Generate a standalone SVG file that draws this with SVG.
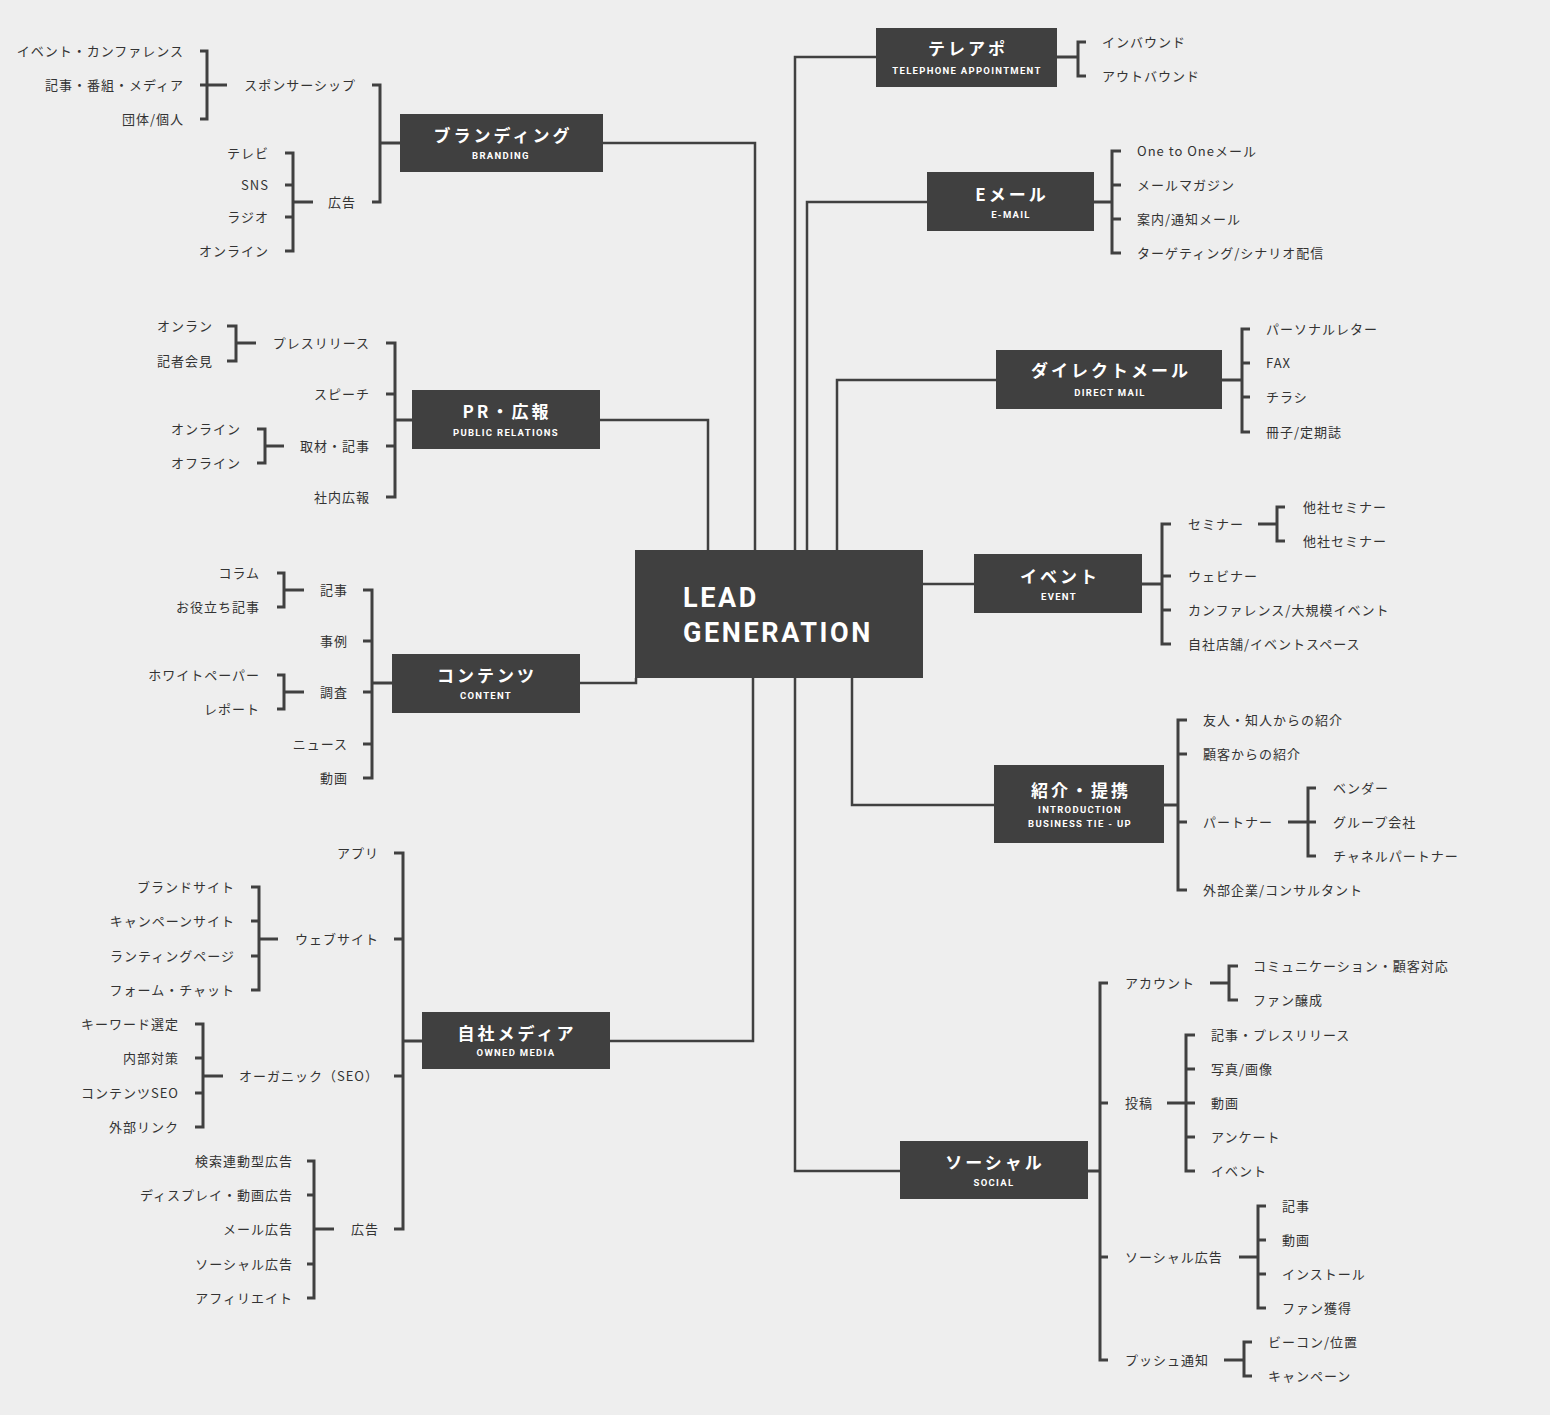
<svg xmlns="http://www.w3.org/2000/svg" width="1550" height="1415" viewBox="0 0 1550 1415">
<style>
.bg{fill:#eeeeee}
.box{fill:#404040}
.ln{fill:none;stroke:#404040;stroke-width:2.5}
.br{fill:none;stroke:#404040;stroke-width:3;stroke-linejoin:miter}
.t{font-family:"Noto Sans CJK JP","Noto Sans",sans-serif;font-size:13px;fill:#333;letter-spacing:1px}
.e{text-anchor:end}
.h{font-family:"Noto Sans CJK JP","Noto Sans",sans-serif;font-size:17px;font-weight:bold;fill:#fff;letter-spacing:3px;text-anchor:middle}
.s{font-family:Roboto,"DejaVu Sans",sans-serif;font-size:9.5px;font-weight:bold;fill:#fff;letter-spacing:1.3px;text-anchor:middle}
.c{font-family:Roboto,"DejaVu Sans",sans-serif;font-size:27px;font-weight:bold;fill:#fff;letter-spacing:2.6px}
</style>
<rect class="bg" x="0" y="0" width="1550" height="1415"/>

<g id="connectors">
<!-- main -->
<path class="ln" d="M603 143H755V550"/>
<path class="ln" d="M600 420H708V550"/>
<path class="ln" d="M580 683H636V678"/>
<path class="ln" d="M610 1041H753V678"/>
<path class="ln" d="M876 57H795V550"/>
<path class="ln" d="M927 202H807V550"/>
<path class="ln" d="M996 380H837V550"/>
<path class="ln" d="M923 584H974"/>
<path class="ln" d="M852 678V805H994"/>
<path class="ln" d="M795 678V1171H900"/>
<!-- branding -->
<path class="br" d="M200 51H207V119H200M200 85H227"/>
<path class="br" d="M285 153H293V251H285M285 185H293M285 217H293M293 202H313"/>
<path class="br" d="M372 85H380V202H372M380 143H400"/>
<!-- PR -->
<path class="br" d="M227 326H236V361H227M236 343H256"/>
<path class="br" d="M257 429H265V463H257M265 446H284"/>
<path class="br" d="M386 343H395V497H386M386 394H395M386 446H395M395 420H412"/>
<!-- content -->
<path class="br" d="M277 573H284V607H277M284 590H304"/>
<path class="br" d="M277 675H284V709H277M284 692H304"/>
<path class="br" d="M363 590H372V778H363M363 641H372M363 692H372M363 744H372M372 683H392"/>
<!-- owned media -->
<path class="br" d="M394 853H403V1229H394M394 939H403M394 1076H403M403 1041H422"/>
<path class="br" d="M251 887H259V990H251M251 921H259M251 956H259M259 939H278"/>
<path class="br" d="M195 1024H203V1127H195M195 1058H203M195 1093H203M203 1076H223"/>
<path class="br" d="M307 1161H314V1298H307M307 1195H314M307 1264H314M314 1229H334"/>
<!-- telephone -->
<path class="br" d="M1057 57H1078M1086 42H1078V76H1086"/>
<!-- email -->
<path class="br" d="M1094 202H1112M1121 151H1112V253H1121M1112 185H1121M1112 219H1121"/>
<!-- DM -->
<path class="br" d="M1222 380H1242M1250 329H1242V432H1250M1242 363H1250M1242 397H1250"/>
<!-- event -->
<path class="br" d="M1142 584H1162M1171 524H1162V644H1171M1162 576H1171M1162 610H1171"/>
<path class="br" d="M1258 524H1277M1285 507H1277V541H1285"/>
<!-- intro -->
<path class="br" d="M1164 805H1178M1187 720H1178V890H1187M1178 754H1187M1178 822H1187"/>
<path class="br" d="M1288 822H1316M1316 788H1308V856H1316"/>
<!-- social -->
<path class="br" d="M1088 1171H1100M1108 983H1100V1360H1108M1100 1103H1108M1100 1257H1108"/>
<path class="br" d="M1210 983H1229M1238 966H1229V1000H1238"/>
<path class="br" d="M1167 1103H1195M1195 1035H1186V1171H1195M1186 1069H1195M1186 1137H1195"/>
<path class="br" d="M1239 1257H1258M1266 1206H1258V1308H1266M1258 1240H1266M1258 1274H1266"/>
<path class="br" d="M1224 1360H1244M1252 1342H1244V1376H1252"/>
</g>

<g id="lead-generation">
<rect class="box" x="635" y="550" width="288" height="128"/>
<text class="c" x="683" y="607">LEAD</text>
<text class="c" x="683" y="642">GENERATION</text>
</g>

<g id="branding">
<rect class="box" x="400" y="114" width="203" height="58"/>
<text class="h" x="503" y="142">ブランディング</text>
<text class="s" x="501" y="159">BRANDING</text>
<text class="t e" x="184" y="56">イベント・カンファレンス</text>
<text class="t e" x="184" y="90">記事・番組・メディア</text>
<text class="t e" x="184" y="124">団体/個人</text>
<text class="t e" x="356" y="90">スポンサーシップ</text>
<text class="t e" x="356" y="207">広告</text>
<text class="t e" x="269" y="158">テレビ</text>
<text class="t e" x="269" y="190">SNS</text>
<text class="t e" x="269" y="222">ラジオ</text>
<text class="t e" x="269" y="256">オンライン</text>
</g>

<g id="public-relations">
<rect class="box" x="412" y="390" width="188" height="59"/>
<text class="h" x="507" y="418">PR・広報</text>
<text class="s" x="506" y="436">PUBLIC RELATIONS</text>
<text class="t e" x="213" y="331">オンラン</text>
<text class="t e" x="213" y="366">記者会見</text>
<text class="t e" x="241" y="434">オンライン</text>
<text class="t e" x="241" y="468">オフライン</text>
<text class="t e" x="370" y="348">プレスリリース</text>
<text class="t e" x="370" y="399">スピーチ</text>
<text class="t e" x="370" y="451">取材・記事</text>
<text class="t e" x="370" y="502">社内広報</text>
</g>

<g id="content">
<rect class="box" x="392" y="654" width="188" height="59"/>
<text class="h" x="487" y="682">コンテンツ</text>
<text class="s" x="486" y="699">CONTENT</text>
<text class="t e" x="260" y="578">コラム</text>
<text class="t e" x="260" y="612">お役立ち記事</text>
<text class="t e" x="260" y="680">ホワイトペーパー</text>
<text class="t e" x="260" y="714">レポート</text>
<text class="t e" x="348" y="595">記事</text>
<text class="t e" x="348" y="646">事例</text>
<text class="t e" x="348" y="697">調査</text>
<text class="t e" x="348" y="749">ニュース</text>
<text class="t e" x="348" y="783">動画</text>
</g>

<g id="owned-media">
<rect class="box" x="422" y="1012" width="188" height="57"/>
<text class="h" x="517" y="1040">自社メディア</text>
<text class="s" x="516" y="1056">OWNED MEDIA</text>
<text class="t e" x="379" y="858">アプリ</text>
<text class="t e" x="379" y="944">ウェブサイト</text>
<text class="t e" x="379" y="1081">オーガニック（SEO）</text>
<text class="t e" x="379" y="1234">広告</text>
<text class="t e" x="235" y="892">ブランドサイト</text>
<text class="t e" x="235" y="926">キャンペーンサイト</text>
<text class="t e" x="235" y="961">ランティングページ</text>
<text class="t e" x="235" y="995">フォーム・チャット</text>
<text class="t e" x="179" y="1029">キーワード選定</text>
<text class="t e" x="179" y="1063">内部対策</text>
<text class="t e" x="179" y="1098">コンテンツSEO</text>
<text class="t e" x="179" y="1132">外部リンク</text>
<text class="t e" x="293" y="1166">検索連動型広告</text>
<text class="t e" x="293" y="1200">ディスプレイ・動画広告</text>
<text class="t e" x="293" y="1234">メール広告</text>
<text class="t e" x="293" y="1269">ソーシャル広告</text>
<text class="t e" x="293" y="1303">アフィリエイト</text>
</g>

<g id="telephone">
<rect class="box" x="876" y="28" width="181" height="59"/>
<text class="h" x="968" y="55">テレアポ</text>
<text class="s" x="967" y="74">TELEPHONE APPOINTMENT</text>
<text class="t" x="1102" y="47">インバウンド</text>
<text class="t" x="1102" y="81">アウトバウンド</text>
</g>

<g id="email">
<rect class="box" x="927" y="172" width="167" height="59"/>
<text class="h" x="1012" y="201">Eメール</text>
<text class="s" x="1011" y="218">E-MAIL</text>
<text class="t" x="1137" y="156">One to Oneメール</text>
<text class="t" x="1137" y="190">メールマガジン</text>
<text class="t" x="1137" y="224">案内/通知メール</text>
<text class="t" x="1137" y="258">ターゲティング/シナリオ配信</text>
</g>

<g id="direct-mail">
<rect class="box" x="996" y="350" width="226" height="59"/>
<text class="h" x="1111" y="377">ダイレクトメール</text>
<text class="s" x="1110" y="396">DIRECT MAIL</text>
<text class="t" x="1266" y="334">パーソナルレター</text>
<text class="t" x="1266" y="368">FAX</text>
<text class="t" x="1266" y="402">チラシ</text>
<text class="t" x="1266" y="437">冊子/定期誌</text>
</g>

<g id="event">
<rect class="box" x="974" y="554" width="168" height="59"/>
<text class="h" x="1060" y="583">イベント</text>
<text class="s" x="1059" y="600">EVENT</text>
<text class="t" x="1188" y="529">セミナー</text>
<text class="t" x="1188" y="581">ウェビナー</text>
<text class="t" x="1188" y="615">カンファレンス/大規模イベント</text>
<text class="t" x="1188" y="649">自社店舗/イベントスペース</text>
<text class="t" x="1303" y="512">他社セミナー</text>
<text class="t" x="1303" y="546">他社セミナー</text>
</g>

<g id="introduction">
<rect class="box" x="994" y="765" width="170" height="78"/>
<text class="h" x="1081" y="797">紹介・提携</text>
<text class="s" x="1080" y="813">INTRODUCTION</text>
<text class="s" x="1080" y="827">BUSINESS TIE - UP</text>
<text class="t" x="1203" y="725">友人・知人からの紹介</text>
<text class="t" x="1203" y="759">顧客からの紹介</text>
<text class="t" x="1203" y="827">パートナー</text>
<text class="t" x="1203" y="895">外部企業/コンサルタント</text>
<text class="t" x="1333" y="793">ベンダー</text>
<text class="t" x="1333" y="827">グループ会社</text>
<text class="t" x="1333" y="861">チャネルパートナー</text>
</g>

<g id="social">
<rect class="box" x="900" y="1141" width="188" height="58"/>
<text class="h" x="995" y="1169">ソーシャル</text>
<text class="s" x="994" y="1186">SOCIAL</text>
<text class="t" x="1125" y="988">アカウント</text>
<text class="t" x="1125" y="1108">投稿</text>
<text class="t" x="1125" y="1262">ソーシャル広告</text>
<text class="t" x="1125" y="1365">プッシュ通知</text>
<text class="t" x="1253" y="971">コミュニケーション・顧客対応</text>
<text class="t" x="1253" y="1005">ファン醸成</text>
<text class="t" x="1211" y="1040">記事・プレスリリース</text>
<text class="t" x="1211" y="1074">写真/画像</text>
<text class="t" x="1211" y="1108">動画</text>
<text class="t" x="1211" y="1142">アンケート</text>
<text class="t" x="1211" y="1176">イベント</text>
<text class="t" x="1282" y="1211">記事</text>
<text class="t" x="1282" y="1245">動画</text>
<text class="t" x="1282" y="1279">インストール</text>
<text class="t" x="1282" y="1313">ファン獲得</text>
<text class="t" x="1268" y="1347">ビーコン/位置</text>
<text class="t" x="1268" y="1381">キャンペーン</text>
</g>
</svg>
